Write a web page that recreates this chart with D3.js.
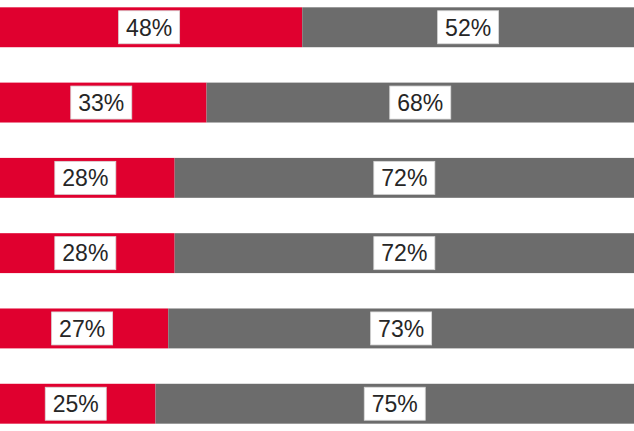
<!DOCTYPE html>
<html>
<head>
<meta charset="utf-8">
<script src="https://cdn.jsdelivr.net/npm/d3@7"></script>
<style>
  body { margin: 0; background: #fff; }
  svg { display: block; }
  .label-text { font-family: "Liberation Sans", Arial, sans-serif; font-size: 23px; fill: #262626; }
</style>
</head>
<body>
<div id="chart"></div>
<script>
// DATA
var rows = ["r1", "r2", "r3", "r4", "r5", "r6"];
var redValues = [48, 33, 28, 28, 27, 25];
var grayValues = [52, 68, 72, 72, 73, 75];

var width = 634, height = 431;

var svg = d3.select("#chart")
  .append("svg")
  .attr("width", width)
  .attr("height", height);

// SCALES
var xScale = d3.scaleLinear().domain([0, 100]).range([-4, 634]);
var yScale = d3.scaleBand().domain(rows).range([-10, 441]).paddingInner(0.47).paddingOuter(0.23);

var data = rows.map(function(r, i) {
  return {row: r, red: redValues[i], gray: grayValues[i]};
});

var g = svg.selectAll("g.bar")
  .data(data)
  .enter().append("g")
  .attr("class", "bar")
  .attr("transform", function(d) { return "translate(0," + yScale(d.row) + ")"; });

var bh = yScale.bandwidth();

g.append("rect")
  .attr("x", xScale(0))
  .attr("width", function(d) { return xScale(d.red) - xScale(0); })
  .attr("height", bh)
  .attr("fill", "#e0002f");

g.append("rect")
  .attr("x", function(d) { return xScale(d.red); })
  .attr("width", function(d) { return width + 10 - xScale(d.red); })
  .attr("height", bh)
  .attr("fill", "#6c6c6c");

// labels in white boxes
var boxW = 61, boxH = 33;

function addLabel(sel, centerFn, textFn) {
  var lg = sel.append("g")
    .attr("transform", function(d) { return "translate(" + centerFn(d) + "," + (bh / 2) + ")"; });
  lg.append("rect")
    .attr("x", -boxW / 2)
    .attr("y", -boxH / 2)
    .attr("width", boxW)
    .attr("height", boxH)
    .attr("fill", "#fff")
    .attr("stroke", "#d8d8d8")
    .attr("stroke-width", 0.8);
  lg.append("text")
    .attr("class", "label-text")
    .attr("text-anchor", "middle")
    .attr("dy", "0.36em")
    .text(textFn);
}

addLabel(g,
  function(d) { return (xScale(0) + xScale(d.red)) / 2; },
  function(d) { return d.red + "%"; });

addLabel(g,
  function(d) { return (xScale(d.red) + width) / 2; },
  function(d) { return d.gray + "%"; });
</script>
</body>
</html>
